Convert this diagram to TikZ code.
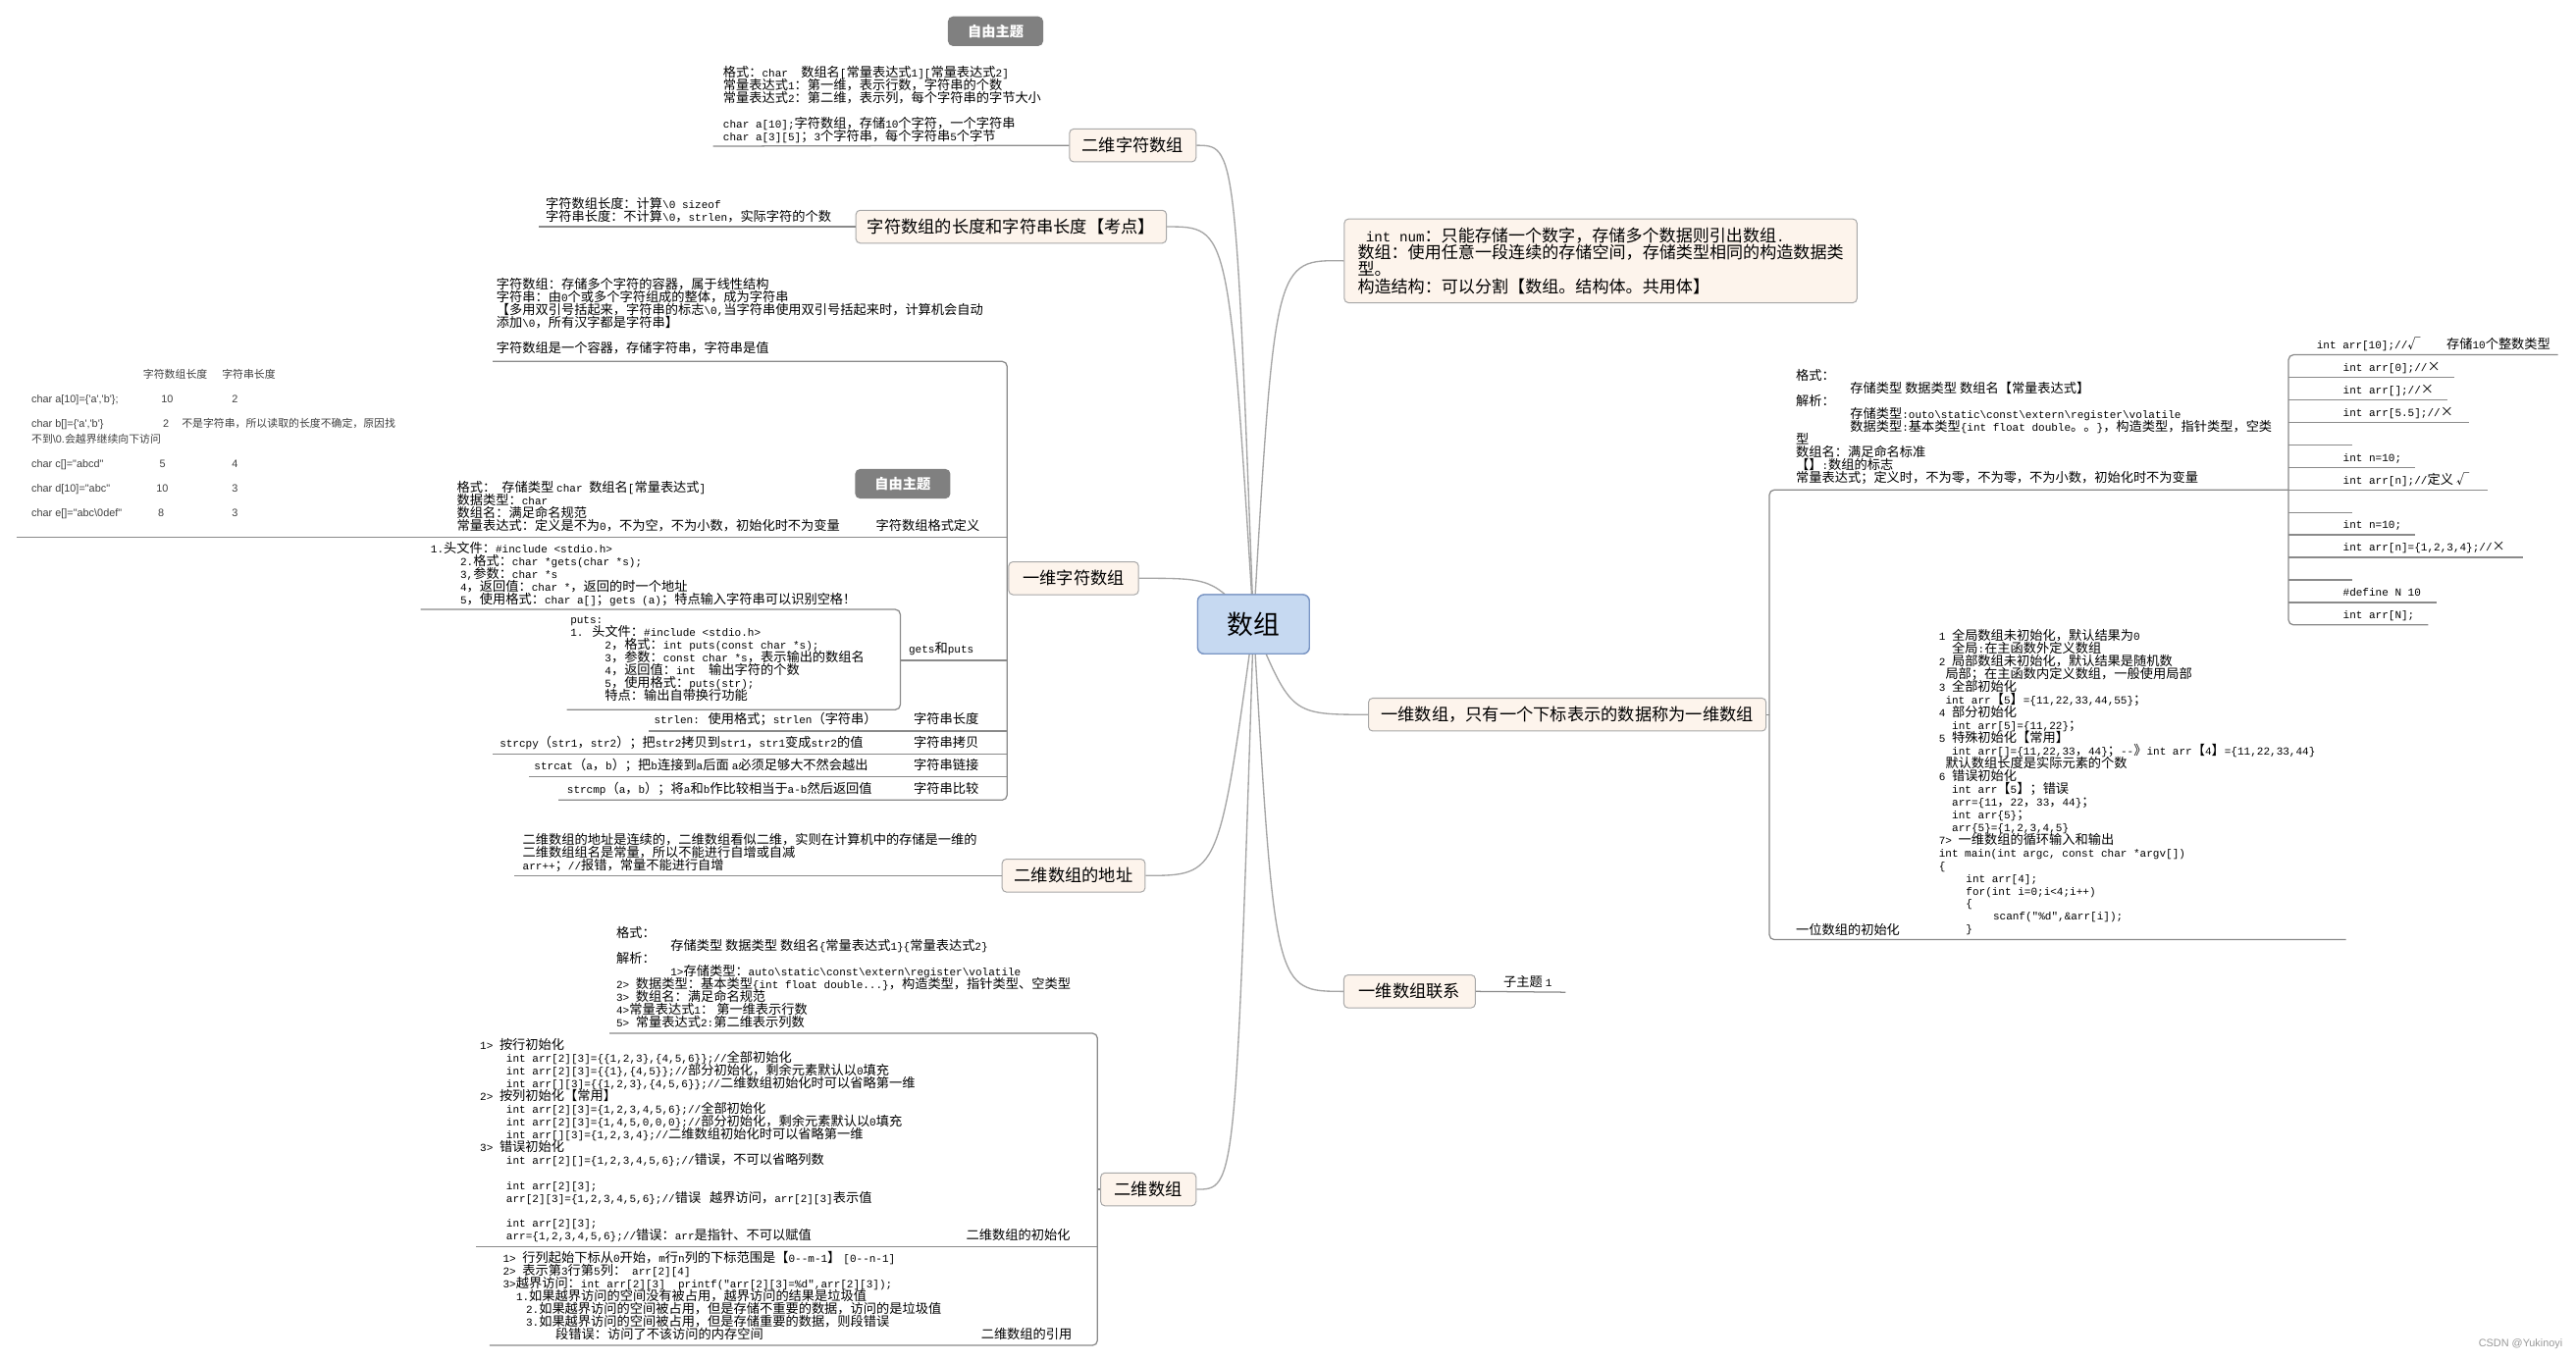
\documentclass[tikz,border=0pt]{standalone}
\usepackage{fontspec}
\setmainfont{Noto Sans CJK SC}
\newfontfamily\cjkfam{Noto Sans CJK SC}
\newfontfamily\monofam{Liberation Mono}[Scale=0.833]
\newfontfamily\sansfam{Liberation Sans}
\newcommand\latinsel{\monofam}
\XeTeXinterchartokenstate=1
\newcount\ccc
\def\setcls#1#2{\ccc=#1\relax\loop\XeTeXcharclass\ccc=7\relax\ifnum\ccc<#2\relax\advance\ccc by 1\repeat}
\setcls{"3000}{"303F}
\setcls{"4E00}{"9FFF}
\setcls{"FF00}{"FFEF}
\XeTeXcharclass"00D7=7
\XeTeXcharclass"221A=7
\XeTeXinterchartoks 0 7 = {\cjkfam}
\XeTeXinterchartoks 4095 7 = {\cjkfam}
\XeTeXinterchartoks 7 0 = {\latinsel}
\XeTeXinterchartoks 4095 0 = {\latinsel}
\newcommand\bs{\textbackslash}
\newcommand\nf{\fontsize{7.9}{7.75}\selectfont\lineskiplimit=-20pt\lineskip=0pt\relax}
\definecolor{lc}{HTML}{8A8A8A}
\definecolor{cc}{HTML}{A5A5A5}
\definecolor{tb}{HTML}{A8A8A8}
\definecolor{tf}{HTML}{FDF4EC}
\definecolor{rf}{HTML}{C6D9F1}
\definecolor{rd}{HTML}{7B96C4}
\definecolor{fg}{HTML}{808080}
\definecolor{tabc}{HTML}{404040}
\begin{document}
\begin{tikzpicture}[x=1pt,y=-1pt,
  line/.style={draw=lc, line width=0.75pt},
  conn/.style={draw=cc, line width=0.8pt},
  topic/.style={draw=tb, fill=tf, rounded corners=2.5pt, line width=0.6pt, font=\fontsize{10.3}{12}\selectfont, minimum height=20pt, inner xsep=4pt, inner ysep=0pt},
  root/.style={draw=rd, fill=rf, rounded corners=4pt, line width=0.8pt, font=\fontsize{16}{18}\selectfont, minimum width=68pt, minimum height=36pt},
  note/.style={inner sep=0pt, anchor=north west, align=left, font=\nf, execute at begin node={\rule{0pt}{7pt}}},
  lab/.style={inner sep=0pt, anchor=base west, yshift=-2.8pt, font=\nf},
  free/.style={fill=fg, rounded corners=3pt, text=white, font=\fontsize{8.5}{10}\selectfont\bfseries, minimum width=58pt, minimum height=18pt, inner sep=0pt},
  tab/.style={inner sep=0pt, anchor=base west, yshift=-2.4pt, text=tabc, font={\fontsize{6.5}{7.5}\selectfont\def\latinsel{\sansfam}}}
]
\useasboundingbox (0,0) rectangle (1568,829);
\fill[white] (0,0) rectangle (1568,829);

% ---------- topic nodes ----------
\node[root] (root) at (763,380) {数组};
\node[topic, minimum width=77pt] (n2zf) at (689.5,88.5) {二维字符数组};
\node[topic, minimum width=189pt] (nlen) at (615.5,138) {字符数组的长度和字符串长度【考点】};
\node[topic, minimum width=79pt] (n1zf) at (653.5,352) {一维字符数组};
\node[topic, minimum width=87pt] (naddr) at (653.5,533) {二维数组的地址};
\node[topic, minimum width=58pt] (n2) at (699,724) {二维数组};
\node[topic, minimum width=242pt] (n1) at (954,435) {一维数组，只有一个下标表示的数据称为一维数组};
\node[topic, minimum width=80pt] (nlx) at (858,603.5) {一维数组联系};
\node[topic, anchor=north west, minimum width=312pt, minimum height=51pt, inner xsep=5pt, align=left, font={\fontsize{10.2}{10.3}\selectfont\lineskiplimit=-20pt\lineskip=0pt}] (nnum) at (818,133)
{\hspace*{5pt}int num：只能存储一个数字，存储多个数据则引出数组.\\
数组：使用任意一段连续的存储空间，存储类型相同的构造数据类\\
型。\\
构造结构：可以分割【数组。结构体。共用体】};

% ---------- connectors from root ----------
\draw[conn] (root.center) .. controls (752,88.5) .. (n2zf.east);
\draw[conn] (root.center) .. controls (748,138) .. (nlen.east);
\draw[conn] (root.center) .. controls (738,352) .. (n1zf.east);
\draw[conn] (root.center) .. controls (742,533) .. (naddr.east);
\draw[conn] (root.center) .. controls (752,724) .. (n2.east);
\draw[conn] (root.center) .. controls (776,158) .. (nnum.west);
\draw[conn] (root.center) .. controls (786,435) .. (n1.west);
\draw[conn] (root.center) .. controls (776,603.5) .. (nlx.west);
\node[root] (root2) at (763,380) {数组};

% ---------- free topics ----------
\node[free] (free1) at (606,19) {自由主题};
\node[free] (free2) at (549.5,294.5) {自由主题};

% ---------- 二维字符数组 ----------
\coordinate (a1) at (434,89);
\draw[line] (n2zf.west) -- (a1);
\node[note] (tA) at (440,39.85) {格式：char\ \ 数组名[常量表达式1][常量表达式2]\\
常量表达式1：第一维，表示行数，字符串的个数\\
常量表达式2：第二维，表示列，每个字符串的字节大小\\
\mbox{}\\
char a[10];字符数组，存储10个字符，一个字符串\\
char a[3][5]；3个字符串，每个字符串5个字节};

% ---------- 字符数组的长度 ----------
\coordinate (b1) at (328,138);
\draw[line] (nlen.west) -- (b1);
\node[note] (tB) at (332,119.85) {字符数组长度：计算\bs 0 sizeof\\
字符串长度：不计算\bs 0，strlen，实际字符的个数};

% ---------- 一维字符数组 ----------
\coordinate (c0) at (613,352);
\draw[line] (n1zf.west) -- (c0);
\draw[line, rounded corners=3pt] (300,220) -- (613,220) -- (613,487) -- (340,487);
\draw[line] (10,327) -- (613,327);
\draw[line] (548,402) -- (613,402);
\draw[line] (395,445) -- (613,445);
\draw[line] (300,459) -- (613,459);
\draw[line] (322,473) -- (613,473);
\draw[line, rounded corners=3pt] (256,371) -- (548,371) -- (548,432) -- (345,432);

\node[note] (tC) at (302,168.85) {字符数组：存储多个字符的容器，属于线性结构\\
字符串：由0个或多个字符组成的整体，成为字符串\\
【多用双引号括起来，字符串的标志\bs 0,当字符串使用双引号括起来时，计算机会自动\\
添加\bs 0，所有汉字都是字符串】\\
\mbox{}\\
字符数组是一个容器，存储字符串，字符串是值};

\node[note] (tD) at (278,292.85) {格式：\ \ 存储类型 char 数组名[常量表达式]\\
数据类型：char\\
数组名：满足命名规范\\
常量表达式：定义是不为0，不为空，不为小数，初始化时不为变量};
\node[lab] (tDl) at (533,320) {字符数组格式定义};

\node[note] (tG) at (262,329.85) {1.头文件：\#include <stdio.h>\\
\hspace*{18pt}2.格式：char *gets(char *s);\\
\hspace*{18pt}3,参数：char *s\\
\hspace*{18pt}4，返回值：char *，返回的时一个地址\\
\hspace*{18pt}5，使用格式：char a[]；gets (a)；特点输入字符串可以识别空格！};

\node[note] (tP) at (347,374.85) {puts:\\
1. 头文件：\#include <stdio.h>\\
\hspace*{21pt}2，格式：int puts(const char *s);\\
\hspace*{21pt}3，参数：const char *s，表示输出的数组名\\
\hspace*{21pt}4，返回值：int\ \ 输出字符的个数\\
\hspace*{21pt}5，使用格式：puts(str);\\
\hspace*{21pt}特点：输出自带换行功能};
\node[lab] (tGP) at (553,395) {gets和puts};

\node[lab] (s1) at (398,438) {strlen: 使用格式；strlen（字符串）};
\node[lab] (s2) at (304,452) {strcpy（str1，str2）；把str2拷贝到str1，str1变成str2的值};
\node[lab] (s3) at (325,466) {strcat（a，b）；把b连接到a后面 a必须足够大不然会越出};
\node[lab] (s4) at (345,480) {strcmp（a，b）；将a和b作比较相当于a-b然后返回值};
\node[lab] (s1l) at (556,438) {字符串长度};
\node[lab] (s2l) at (556,452) {字符串拷贝};
\node[lab] (s3l) at (556,466) {字符串链接};
\node[lab] (s4l) at (556,480) {字符串比较};

% ---------- table image ----------
\node[tab] (th1) at (87,228) {字符数组长度};
\node[tab] (th2) at (135,228) {字符串长度};
\node[tab] (r1a) at (19,242.6) {char a[10]=\{'a','b'\};};
\node[tab] (r1b) at (98,242.6) {10};
\node[tab] (r1c) at (141,242.6) {2};
\node[tab] (r2a) at (19,258) {char b[]=\{'a','b'\}};
\node[tab] (r2b) at (99,258) {2};
\node[tab] (r2c) at (110.5,258) {不是字符串，所以读取的长度不确定，原因找};
\node[tab] (r2d) at (19,267.5) {不到\bs 0.会越界继续向下访问};
\node[tab] (r3a) at (19,282) {char c[]="abcd"};
\node[tab] (r3b) at (97,282) {5};
\node[tab] (r3c) at (141,282) {4};
\node[tab] (r4a) at (19,297) {char d[10]="abc"};
\node[tab] (r4b) at (95,297) {10};
\node[tab] (r4c) at (141,297) {3};
\node[tab] (r5a) at (19,312) {char e[]="abc\bs 0def"};
\node[tab] (r5b) at (96,312) {8};
\node[tab] (r5c) at (141,312) {3};

% ---------- 二维数组的地址 ----------
\coordinate (d1) at (313,533);
\draw[line] (naddr.west) -- (d1);
\node[note] (tAd) at (318,506.85) {二维数组的地址是连续的，二维数组看似二维，实则在计算机中的存储是一维的\\
二维数组组名是常量，所以不能进行自增或自减\\
arr++；//报错，常量不能进行自增};

% ---------- 二维数组 ----------
\coordinate (e0) at (668,724);
\draw[line] (n2.west) -- (e0);
\draw[line, rounded corners=3pt] (371,629) -- (668,629) -- (668,819) -- (298,819);
\draw[line] (290,759) -- (668,759);

\node[note] (tH) at (375,563.85) {格式：\\
\hspace*{33pt}存储类型 数据类型 数组名\{常量表达式1\}\{常量表达式2\}\\
解析：\\
\hspace*{33pt}1>存储类型：auto\bs static\bs const\bs extern\bs register\bs volatile\\
2> 数据类型：基本类型\{int float double...\}，构造类型，指针类型、空类型\\
3> 数组名：满足命名规范\\
4>常量表达式1：\ 第一维表示行数\\
5> 常量表达式2:第二维表示列数};

\node[note] (tI) at (292,631.85) {1> 按行初始化\\
\hspace*{16pt}int arr[2][3]=\{\{1,2,3\},\{4,5,6\}\};//全部初始化\\
\hspace*{16pt}int arr[2][3]=\{\{1\},\{4,5\}\};//部分初始化，剩余元素默认以0填充\\
\hspace*{16pt}int arr[][3]=\{\{1,2,3\},\{4,5,6\}\};//二维数组初始化时可以省略第一维\\
2> 按列初始化【常用】\\
\hspace*{16pt}int arr[2][3]=\{1,2,3,4,5,6\};//全部初始化\\
\hspace*{16pt}int arr[2][3]=\{1,4,5,0,0,0\};//部分初始化，剩余元素默认以0填充\\
\hspace*{16pt}int arr[][3]=\{1,2,3,4\};//二维数组初始化时可以省略第一维\\
3> 错误初始化\\
\hspace*{16pt}int arr[2][]=\{1,2,3,4,5,6\};//错误，不可以省略列数\\
\mbox{}\\
\hspace*{16pt}int arr[2][3];\\
\hspace*{16pt}arr[2][3]=\{1,2,3,4,5,6\};//错误\ \ \ 越界访问，arr[2][3]表示值\\
\mbox{}\\
\hspace*{16pt}int arr[2][3];\\
\hspace*{16pt}arr=\{1,2,3,4,5,6\};//错误：arr是指针、不可以赋值};
\node[lab] (tIl) at (588,752) {二维数组的初始化};

\node[note] (tR) at (306,761.85) {1> 行列起始下标从0开始，m行n列的下标范围是【0-{}-m-1】 [0-{}-n-1]\\
2> 表示第3行第5列：\ \ arr[2][4]\\
3>越界访问：int arr[2][3]\ \ printf("arr[2][3]=\%d",arr[2][3]);\\
\hspace*{8pt}1.如果越界访问的空间没有被占用，越界访问的结果是垃圾值\\
\hspace*{14pt}2.如果越界访问的空间被占用，但是存储不重要的数据，访问的是垃圾值\\
\hspace*{14pt}3.如果越界访问的空间被占用，但是存储重要的数据，则段错误\\
\hspace*{32pt}段错误：访问了不该访问的内存空间};
\node[lab] (tRl) at (597,812) {二维数组的引用};

% ---------- 一维数组 ----------
\coordinate (f0) at (1077,435);
\draw[line] (n1.east) -- (f0);
\draw[line, rounded corners=3pt] (1393,298.2) -- (1077,298.2) -- (1077,572) -- (1428,572);

\node[note] (tF) at (1093,224.85) {格式：\\
\hspace*{33pt}存储类型 数据类型 数组名【常量表达式】\\
解析：\\
\hspace*{33pt}存储类型:outo\bs static\bs const\bs extern\bs register\bs volatile\\
\hspace*{33pt}数据类型:基本类型\{int float double。。\}，构造类型，指针类型，空类\\
型\\
数组名：满足命名标准\\
【】:数组的标志\\
常量表达式；定义时，不为零，不为零，不为小数，初始化时不为变量};

% items bracket
\draw[line, rounded corners=3pt] (1557,216) -- (1393,216) -- (1393,380.4) -- (1478,380.4);
\draw[line] (1393,229.7) -- (1494,229.7);
\draw[line] (1393,243.4) -- (1490,243.4);
\draw[line] (1393,257.1) -- (1503,257.1);
\draw[line] (1393,270.8) -- (1432,270.8);
\draw[line] (1393,284.5) -- (1470,284.5);
\draw[line] (1393,298.2) -- (1514,298.2);
\draw[line] (1393,311.9) -- (1432,311.9);
\draw[line] (1393,325.6) -- (1470,325.6);
\draw[line] (1393,339.3) -- (1536,339.3);
\draw[line] (1393,353.0) -- (1432,353.0);
\draw[line] (1393,366.7) -- (1483,366.7);
\node[lab] (i0) at (1410,209.5) {int arr[10];//√};
\node[lab] (i0b) at (1489,209.5) {存储10个整数类型};
\node[lab] (i1) at (1426,223.2) {int arr[0];//×};
\node[lab] (i2) at (1426,236.9) {int arr[];//×};
\node[lab] (i3) at (1426,250.6) {int arr[5.5];//×};
\node[lab] (i5) at (1426,278.0) {int n=10;};
\node[lab] (i6) at (1426,291.7) {int arr[n];//定义 √};
\node[lab] (i8) at (1426,319.1) {int n=10;};
\node[lab] (i9) at (1426,332.8) {int arr[n]=\{1,2,3,4\};//×};
\node[lab] (i11) at (1426,360.2) {\#define N 10};
\node[lab] (i12) at (1426,373.9) {int arr[N];};

\node[note] (tJ) at (1180,382.85) {1 全局数组未初始化，默认结果为0\\
\hspace*{8pt}全局:在主函数外定义数组\\
2 局部数组未初始化，默认结果是随机数\\
\hspace*{4pt}局部；在主函数内定义数组，一般使用局部\\
3 全部初始化\\
\hspace*{4pt}int arr【5】=\{11,22,33,44,55\}；\\
4 部分初始化\\
\hspace*{8pt}int arr[5]=\{11,22\}；\\
5 特殊初始化【常用】\\
\hspace*{8pt}int arr[]=\{11,22,33，44\}；-{}-》int arr【4】=\{11,22,33,44\}\\
\hspace*{4pt}默认数组长度是实际元素的个数\\
6 错误初始化\\
\hspace*{8pt}int arr【5】；错误\\
\hspace*{8pt}arr=\{11，22，33，44\}；\\
\hspace*{8pt}int arr\{5\}；\\
\hspace*{8pt}arr\{5\}=\{1,2,3,4,5\}\\
7> 一维数组的循环输入和输出\\
int main(int argc, const char *argv[])\\
\{\\
\hspace*{16.5pt}int arr[4];\\
\hspace*{16.5pt}for(int i=0;i<4;i++)\\
\hspace*{16.5pt}\{\\
\hspace*{33pt}scanf("\%d",\&arr[i]);\\
\hspace*{16.5pt}\}};
\node[lab] (tJl) at (1093,566) {一位数组的初始化};

% ---------- 一维数组联系 ----------
\coordinate (g1) at (953,604);
\draw[line] (nlx.east) -- (g1);
\node[lab] (sub1) at (915,598) {子主题 1};

% watermark
\node[anchor=base east, inner sep=0pt, text=gray!80, font={\fontsize{6.5}{8}\selectfont\def\latinsel{\sansfam}}] (wm) at (1560,820) {CSDN @Yukinoyi};
\end{tikzpicture}
\end{document}
